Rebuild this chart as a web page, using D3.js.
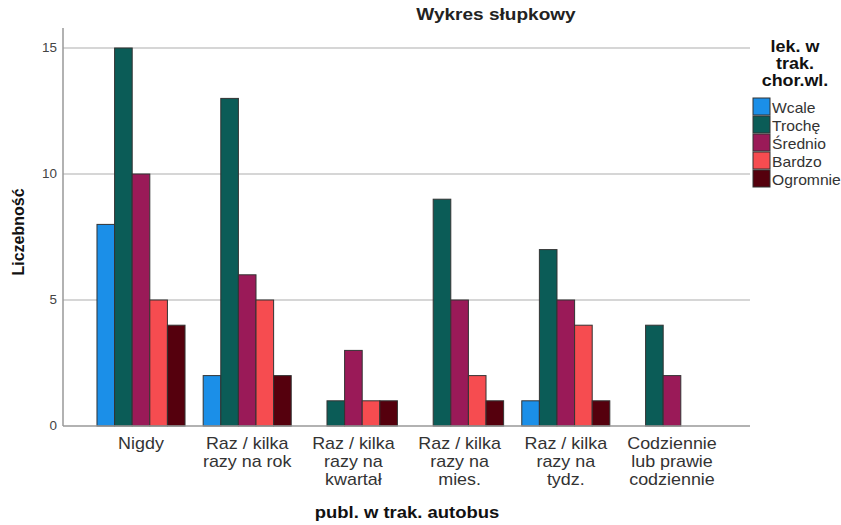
<!DOCTYPE html>
<meta charset="utf-8">
<style>
body { margin: 0; background: #fff; }
text { font-family: "Liberation Sans", Arial, sans-serif; }
.grid line { stroke: #c8c8c8; stroke-width: 1.5px; }
.bars rect { stroke: #333; stroke-width: 1px; }
</style>
<svg width="841" height="525"></svg>
<script src="https://d3js.org/d3.v7.min.js"></script>
<script>

var categories = [
  ["Nigdy"],
  ["Raz / kilka", "razy na rok"],
  ["Raz / kilka", "razy na", "kwartał"],
  ["Raz / kilka", "razy na", "mies."],
  ["Raz / kilka", "razy na", "tydz."],
  ["Codziennie", "lub prawie", "codziennie"]
];
var seriesNames = ["Wcale", "Trochę", "Średnio", "Bardzo", "Ogromnie"];
var seriesColors = ["#1b8fe8", "#0b5c57", "#9a1a58", "#f64c50", "#55000d"];

// counts per category, one array per series
var wcale    = [8, 2, 0, 0, 1, 0];
var troche   = [15, 13, 1, 9, 7, 4];
var srednio  = [10, 6, 3, 5, 5, 2];
var bardzo   = [5, 5, 1, 2, 4, 0];
var ogromnie = [4, 2, 1, 1, 1, 0];
var series = [wcale, troche, srednio, bardzo, ogromnie];

var yTicks = [0, 5, 10, 15];

// the source picture is a bit wider than tall, so horizontal text is stretched
var sx = 1.12;

var svg = d3.select("svg");

function place(sel, x, y) {
  return sel.attr("transform", "translate(" + x + "," + y + ") scale(" + sx + ",1)");
}

var x0 = d3.scaleBand()
    .domain(d3.range(categories.length))
    .range([63, 750])
    .paddingInner(0.171)
    .paddingOuter(0.32);

var x1 = d3.scaleBand()
    .domain(d3.range(seriesNames.length))
    .range([0, x0.bandwidth()]);

var y = d3.scaleLinear().domain([0, 15]).range([426, 48]);

// gridlines
svg.append("g")
    .attr("class", "grid")
  .selectAll("line")
  .data(yTicks.filter(function(d) { return d > 0; }))
  .enter().append("line")
    .attr("x1", 63).attr("x2", 750)
    .attr("y1", function(d) { return y(d); })
    .attr("y2", function(d) { return y(d); });

// bars (zero counts are not drawn)
var rows = [];
categories.forEach(function(c, i) {
  series.forEach(function(s, j) {
    if (s[i] > 0) rows.push({cat: i, ser: j, value: s[i]});
  });
});

svg.append("g")
    .attr("class", "bars")
  .selectAll("rect")
  .data(rows)
  .enter().append("rect")
    .attr("x", function(d) { return x0(d.cat) + x1(d.ser); })
    .attr("width", x1.bandwidth())
    .attr("y", function(d) { return y(d.value); })
    .attr("height", function(d) { return y(0) - y(d.value); })
    .attr("fill", function(d) { return seriesColors[d.ser]; });

// axis lines
svg.append("line")
    .attr("x1", 63).attr("x2", 63).attr("y1", 28).attr("y2", 426)
    .attr("stroke", "#999").attr("stroke-width", 1.5);
svg.append("line")
    .attr("x1", 63).attr("x2", 750).attr("y1", 426).attr("y2", 426)
    .attr("stroke", "#999").attr("stroke-width", 1.5);

// y tick labels
svg.append("g")
  .selectAll("text")
  .data(yTicks)
  .enter().append("text")
    .each(function(d) { place(d3.select(this), 57, y(d)); })
    .attr("dy", "0.35em")
    .attr("text-anchor", "end")
    .attr("font-size", 12)
    .attr("fill", "#444")
    .text(function(d) { return d; });

// category labels
var cl = svg.append("g")
  .selectAll("text")
  .data(categories)
  .enter().append("text")
    .each(function(d, i) { place(d3.select(this), x0(i) + x0.bandwidth() / 2, 449); })
    .attr("text-anchor", "middle")
    .attr("font-size", 16)
    .attr("fill", "#333");
cl.selectAll("tspan")
  .data(function(d) { return d; })
  .enter().append("tspan")
    .attr("x", 0)
    .attr("dy", function(d, i) { return i === 0 ? 0 : 18; })
    .text(function(d) { return d; });

// title and axis titles
place(svg.append("text"), 496, 20)
    .attr("text-anchor", "middle")
    .attr("font-size", 17).attr("font-weight", "bold")
    .attr("fill", "#222")
    .text("Wykres słupkowy");

svg.append("text")
    .attr("transform", "translate(24,232) rotate(-90)")
    .attr("text-anchor", "middle")
    .attr("font-size", 16).attr("font-weight", "bold")
    .attr("fill", "#111")
    .text("Liczebność");

place(svg.append("text"), 407, 518)
    .attr("text-anchor", "middle")
    .attr("font-size", 16.5).attr("font-weight", "bold")
    .attr("fill", "#111")
    .text("publ. w trak. autobus");

// legend
var legTitle = ["lek. w", "trak.", "chor.wl."];
svg.append("g")
  .selectAll("text")
  .data(legTitle)
  .enter().append("text")
    .each(function(d, i) { place(d3.select(this), 795, 52 + i * 17); })
    .attr("text-anchor", "middle")
    .attr("font-size", 16).attr("font-weight", "bold")
    .attr("fill", "#111")
    .text(function(d) { return d; });

var leg = svg.append("g")
  .selectAll("g")
  .data(seriesNames)
  .enter().append("g")
    .attr("transform", function(d, i) { return "translate(753," + (98 + i * 18) + ")"; });
leg.append("rect")
    .attr("width", 17).attr("height", 17)
    .attr("fill", function(d, i) { return seriesColors[i]; })
    .attr("stroke", "#333");
leg.append("text")
    .attr("transform", "translate(19,15) scale(" + sx + ",1)")
    .attr("font-size", 14)
    .attr("fill", "#333")
    .text(function(d) { return d; });

</script>
